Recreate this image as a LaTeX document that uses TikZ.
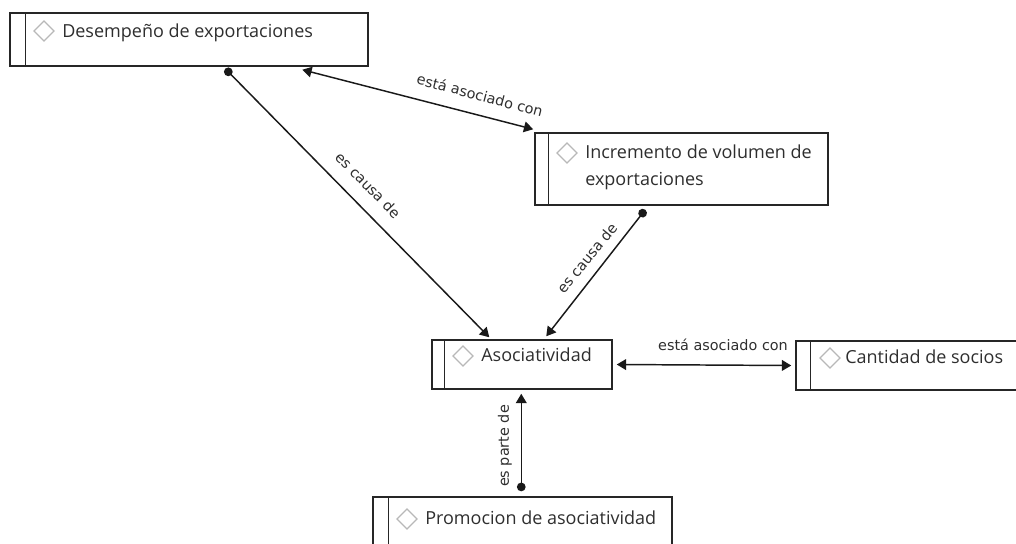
\documentclass[tikz,border=0pt]{standalone}
\usepackage{fontspec}
\setmainfont{Open Sans}
\newfontfamily\labelfont{DejaVu Sans}
\usetikzlibrary{arrows.meta,calc,fit}
\tikzset{
  cbox/.style={draw=black!85, line width=1.1pt, inner sep=0pt},
  sepline/.style={draw=black!85, line width=1.1pt},
  icon/.style={draw=black!28, line width=0.9pt, line join=miter},
  ctext/.style={text=black!82, font=\fontsize{13.5}{20}\selectfont, anchor=base west, inner sep=0pt},
  rel/.style={draw=black!90, line width=1.1pt},
  rlabel/.style={text=black!82, font=\labelfont\fontsize{10.8}{12}\selectfont, inner sep=0pt},
  headtip/.tip={Triangle[length=7pt,width=8pt]},
  dottip/.tip={Circle[length=6.5pt]},
}
\begin{document}
\begin{tikzpicture}[x=0.75pt,y=-0.75pt]
\useasboundingbox (0,0) rectangle (1016,543);
\clip (0,0) rectangle (1016,543);

% Box 1
\node[cbox, fit={(10,13)(368,66)}] (b1) {};
\draw[sepline] ($(b1.north west)+(16,0)$) -- ($(b1.south west)+(16,0)$);
\draw[icon] (34,31) -- (44,21) -- (54,31) -- (44,41) -- cycle;
\node[ctext] (t1) at (62,37) {Desempeño de exportaciones};

% Box 2
\node[cbox, fit={(535,133)(828,205)}] (b2) {};
\draw[sepline] ($(b2.north west)+(14,0)$) -- ($(b2.south west)+(14,0)$);
\draw[icon] (557,153) -- (567,143) -- (577,153) -- (567,163) -- cycle;
\node[ctext] (t2a) at (585,158) {Incremento de volumen de};
\node[ctext] (t2b) at (585,185) {exportaciones};

% Box 3
\node[cbox, fit={(432,340)(612,389)}] (b3) {};
\draw[sepline] ($(b3.north west)+(13,0)$) -- ($(b3.south west)+(13,0)$);
\draw[icon] (453,356) -- (463,346) -- (473,356) -- (463,366) -- cycle;
\node[ctext] (t3) at (481,361) {Asociatividad};

% Box 4
\node[cbox, fit={(373,497)(672,560)}] (b4) {};
\draw[sepline] ($(b4.north west)+(16,0)$) -- ($(b4.south west)+(16,0)$);
\draw[icon] (397,519) -- (407,509) -- (417,519) -- (407,529) -- cycle;
\node[ctext] (t4) at (425,524) {Promocion de asociatividad};

% Box 5
\node[cbox, fit={(796,341)(1030,390)}] (b5) {};
\draw[sepline] ($(b5.north west)+(15,0)$) -- ($(b5.south west)+(15,0)$);
\draw[icon] (820,358) -- (830,348) -- (840,358) -- (830,368) -- cycle;
\node[ctext] (t5) at (845,363) {Cantidad de socios};

% Connectors
\draw[rel, {dottip}-{headtip}] ($(b1.south west)+(216,2)$) -- ($(b3.north west)+(58,-2)$);
\node[rlabel, rotate=-45.6] (l1) at (368,185) {es causa de};

\draw[rel, {headtip}-{headtip}] ($(b1.south west)+(293,3)$) -- ($(b2.north west)+(-1,-3)$);
\node[rlabel, rotate=-14.8] (l2) at (480,95) {está asociado con};

\draw[rel, {dottip}-{headtip}] ($(b2.south west)+(111,4)$) -- ($(b3.north west)+(115,-3)$);
\node[rlabel, rotate=50.9] (l3) at (587,258) {es causa de};

\draw[rel, {headtip}-{headtip}] ($(b3.east)+(4,0)$) -- ($(b5.west)+(-4,0)$);
\node[rlabel] (l4) at (723,345) {está asociado con};

\draw[rel, {dottip}-{headtip}] ($(b4.north west)+(149,-5)$) -- ($(b3.south west)+(90,4)$);
\node[rlabel, rotate=90] (l5) at (505,446) {es parte de};
\end{tikzpicture}
\end{document}
